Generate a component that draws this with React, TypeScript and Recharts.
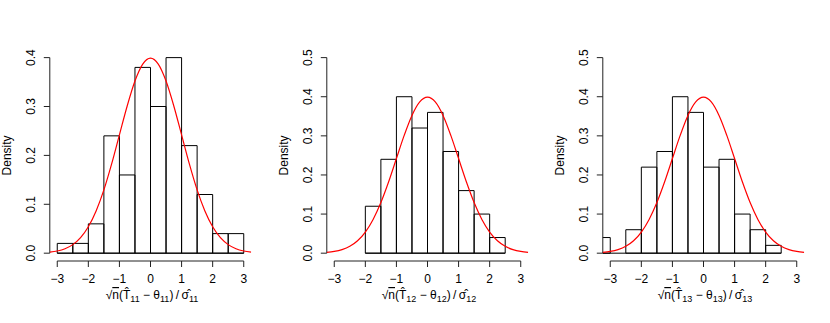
import React from "react";
import {
  ComposedChart,
  Line,
  XAxis,
  YAxis,
  ReferenceArea,
  ReferenceLine,
} from "recharts";

// histogram bins (left edges, width 0.5) and densities
const BIN_WIDTH = 0.5;
const p1BinStart = [-3, -2.5, -2, -1.5, -1, -0.5, 0, 0.5, 1, 1.5, 2, 2.5];
const p1Density = [0.02, 0.02, 0.06, 0.24, 0.16, 0.38, 0.3, 0.4, 0.22, 0.12, 0.04, 0.04];
const p2BinStart = [-2, -1.5, -1, -0.5, 0, 0.5, 1, 1.5, 2];
const p2Density = [0.12, 0.24, 0.4, 0.32, 0.36, 0.26, 0.16, 0.1, 0.04];
const p3BinStart = [-3.5, -3, -2.5, -2, -1.5, -1, -0.5, 0, 0.5, 1, 1.5, 2];
const p3Density = [0.04, 0, 0.06, 0.22, 0.26, 0.4, 0.36, 0.22, 0.24, 0.1, 0.06, 0.02];

// red reference curve (standard normal density)
const curveX = [
  -3.24, -3, -2.75, -2.5, -2.25, -2, -1.75, -1.5, -1.25, -1, -0.75, -0.5, -0.25, 0,
  0.25, 0.5, 0.75, 1, 1.25, 1.5, 1.75, 2, 2.25, 2.5, 2.75, 3, 3.24,
];
const curveY = [
  0.0021, 0.0044, 0.0091, 0.0175, 0.0317, 0.054, 0.0863, 0.1295, 0.1826, 0.242, 0.3011,
  0.3521, 0.3867, 0.3989, 0.3867, 0.3521, 0.3011, 0.242, 0.1826, 0.1295, 0.0863, 0.054,
  0.0317, 0.0175, 0.0091, 0.0044, 0.0021,
];

const xTicks = [-3, -2, -1, 0, 1, 2, 3];
const yTicksA = [0, 0.1, 0.2, 0.3, 0.4];
const yTicksB = [0, 0.1, 0.2, 0.3, 0.4, 0.5];

const FONT = "'Liberation Sans', Arial, Helvetica, sans-serif";
const W = 277;
const H = 323;
const LEFT = 49.8;
const BOTTOM = 261;
const PLOT_W = 201.4;

const curveData = curveX.map((x, i) => ({ x, d: curveY[i] }));

function XTick(props: any) {
  const { x, payload } = props;
  const v = payload.value as number;
  return (
    <g>
      <line x1={x} x2={x} y1={BOTTOM} y2={BOTTOM + 6} stroke="#222" />
      <text x={x} y={283.3} textAnchor="middle" fontSize={12} fontFamily={FONT} fill="#000">
        {v < 0 ? `\u2212${Math.abs(v)}` : String(v)}
      </text>
    </g>
  );
}

function YTick(props: any) {
  const { y, payload } = props;
  const v = payload.value as number;
  return (
    <g>
      <line x1={LEFT - 6} x2={LEFT} y1={y} y2={y} stroke="#222" />
      <text
        x={34.7}
        y={y}
        textAnchor="middle"
        fontSize={12}
        fontFamily={FONT}
        fill="#000"
        transform={`rotate(-90, 34.7, ${y})`}
      >
        {v.toFixed(1)}
      </text>
    </g>
  );
}

interface PanelProps {
  left: number;
  binStart: number[];
  density: number[];
  yTicks: number[];
  sub: string;
}

function Panel({ left, binStart, density, yTicks, sub }: PanelProps) {
  const yMax = yTicks[yTicks.length - 1];
  const yDomain = [-0.04 * yMax, 1.04 * yMax];
  const cx = LEFT + PLOT_W / 2;
  const lastEnd = binStart[binStart.length - 1] + BIN_WIDTH;
  return (
    <div style={{ position: "absolute", left, top: 0, width: W, height: H }}>
      <ComposedChart
        width={W}
        height={H}
        data={curveData}
        margin={{ top: 49.8, right: W - LEFT - PLOT_W, bottom: 0, left: 0 }}
      >
        <XAxis
          dataKey="x"
          type="number"
          domain={[-3.24, 3.24]}
          allowDataOverflow
          ticks={xTicks}
          axisLine={false}
          tickLine={false}
          height={62}
          tick={<XTick />}
        />
        <YAxis
          type="number"
          domain={yDomain}
          allowDataOverflow
          ticks={yTicks}
          axisLine={false}
          tickLine={false}
          width={LEFT}
          tick={<YTick />}
        />
        {binStart.map((b, i) =>
          density[i] > 0 ? (
            <ReferenceArea
              key={i}
              x1={b}
              x2={b + BIN_WIDTH}
              y1={0}
              y2={density[i]}
              fill="#fff"
              fillOpacity={0}
              stroke="#000"
              strokeOpacity={1}
              strokeWidth={1}
              ifOverflow="hidden"
            />
          ) : null
        )}
        <ReferenceLine
          segment={[
            { x: Math.max(binStart[0], -3.24), y: 0 },
            { x: lastEnd, y: 0 },
          ]}
          stroke="#000"
          ifOverflow="visible"
        />
        <ReferenceLine
          segment={[
            { x: -3, y: yDomain[0] },
            { x: 3, y: yDomain[0] },
          ]}
          stroke="#222"
          ifOverflow="visible"
        />
        <ReferenceLine
          segment={[
            { x: -3.24, y: 0 },
            { x: -3.24, y: yMax },
          ]}
          stroke="#222"
          ifOverflow="visible"
        />
        <Line
          dataKey="d"
          type="monotone"
          stroke="#ff0000"
          strokeWidth={1.2}
          dot={false}
          activeDot={false}
          isAnimationActive={false}
        />
      </ComposedChart>
      <svg
        width={W}
        height={H}
        style={{ position: "absolute", left: 0, top: 0, pointerEvents: "none" }}
      >
        <text
          x={11}
          y={155.4}
          textAnchor="middle"
          fontSize={12}
          fontFamily={FONT}
          transform="rotate(-90, 11, 155.4)"
        >
          Density
        </text>
        <text x={cx + 1.5} y={299} textAnchor="middle" fontSize={12} fontFamily={FONT}>
          {"\u221A"}
          <tspan textDecoration="overline">n</tspan>
          {"(T\u0302"}
          <tspan dy={2.5} fontSize={9}>{sub}</tspan>
          <tspan dy={-2.5}>{" \u2212 \u03B8"}</tspan>
          <tspan dy={2.5} fontSize={9}>{sub}</tspan>
          <tspan dy={-2.5}>{")\u2009/\u2009\u03C3\u0302"}</tspan>
          <tspan dy={2.5} fontSize={9}>{sub}</tspan>
        </text>
      </svg>
    </div>
  );
}

export default function App() {
  return (
    <div
      style={{
        position: "absolute",
        left: 0,
        top: 0,
        width: 830,
        height: 323,
        background: "#fff",
      }}
    >
      <Panel left={0} binStart={p1BinStart} density={p1Density} yTicks={yTicksA} sub="11" />
      <Panel left={277} binStart={p2BinStart} density={p2Density} yTicks={yTicksB} sub="12" />
      <Panel left={553} binStart={p3BinStart} density={p3Density} yTicks={yTicksB} sub="13" />
    </div>
  );
}
